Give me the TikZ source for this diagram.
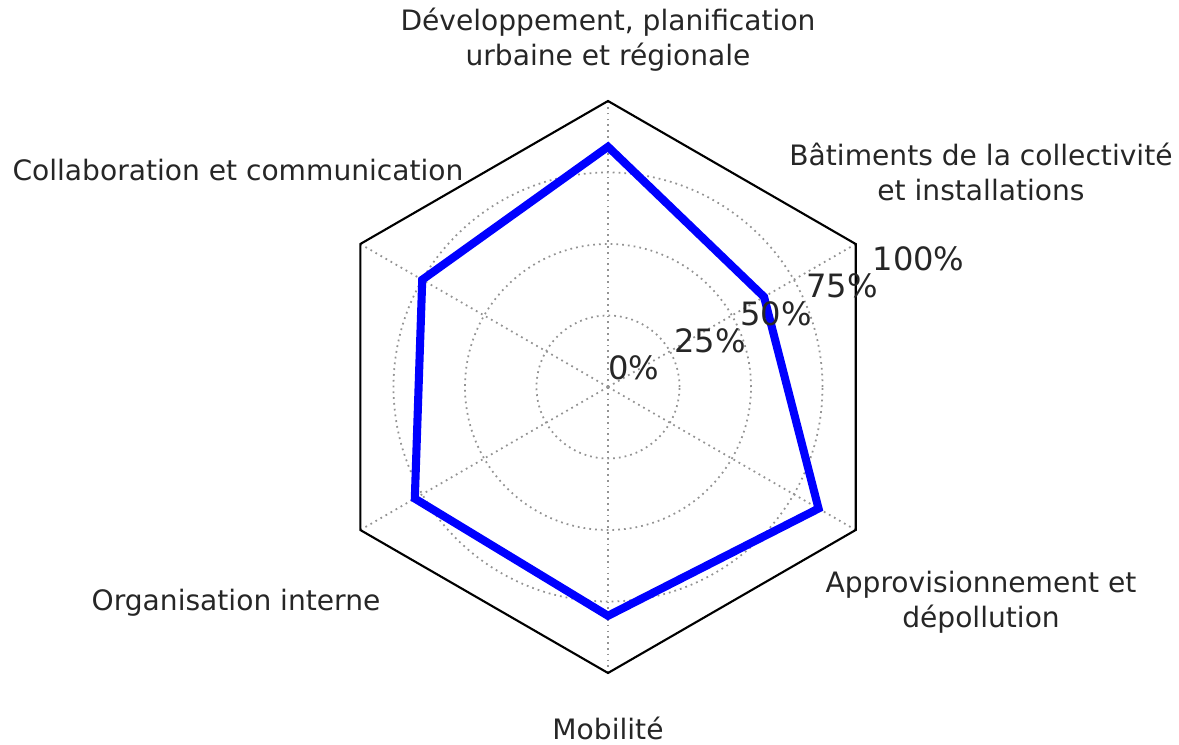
\documentclass[tikz,border=0pt]{standalone}
\usepackage{fontspec}
\setmainfont{DejaVu Sans}
\usepackage{tikz}
\usetikzlibrary{positioning}
\tikzstyle{frame} = [draw=black, line width=1.2pt, line join=miter]
\tikzstyle{ring} = [draw=gray!85, line width=1pt, dash pattern=on 1pt off 2.3pt]
\tikzstyle{datum} = [draw=blue, line width=4.6pt, line join=miter]
\tikzstyle{axislabel} = [align=center, font=\fontsize{16}{19.8}\selectfont, text=black!85, inner sep=0pt]
\tikzstyle{ticklabel} = [anchor=base west, font=\fontsize{18.3}{20}\selectfont, text=black!85, inner sep=0pt, yshift=0.14cm]

\begin{document}
\begin{tikzpicture}[x=0.02cm, y=0.02cm]
  \useasboundingbox (0,0) rectangle (1179,744);
  \coordinate (centre) at (608,357);

  % hexagon corners and data points
  \foreach \a [count=\i] in {90,30,-30,-90,-150,150}
    \path (centre) ++(\a:286) coordinate (v\i);
  \foreach \a/\p [count=\i] in {90/0.84,30/0.63,-30/0.85,-90/0.80,-150/0.78,150/0.75}
    \path (centre) ++(\a:{286*\p}) coordinate (d\i);

  % rings and spokes
  \foreach \r in {71.5,143,214.5}
    \draw[ring] (centre) circle (\r);
  \foreach \i in {1,...,6}
    \draw[ring] (centre) -- (v\i);

  \draw[frame] (v1) -- (v2) -- (v3) -- (v4) -- (v5) -- (v6) -- cycle;
  \draw[datum] (d1) -- (d2) -- (d3) -- (d4) -- (d5) -- (d6) -- cycle;

  \foreach \t [count=\k from 0] in {0,25,50,75,100}
    \path (centre) ++(22.5:{\k*71.5}) node[ticklabel] (tick\k) {\t\%};

  \node[axislabel] (dev) at (608,704) {Développement, planification\\urbaine et régionale};
  \node[axislabel] (bat) at (981,572) {Bâtiments de la collectivité\\et installations};
  \node[axislabel] (appro) at (981,142) {Approvisionnement et\\dépollution};
  \node[axislabel] (mobil) at (608,16) {Mobilité};
  \node[axislabel] (organ) at (236,141) {Organisation interne};
  \node[axislabel] (collab) at (238,574) {Collaboration et communication};
\end{tikzpicture}
\end{document}
